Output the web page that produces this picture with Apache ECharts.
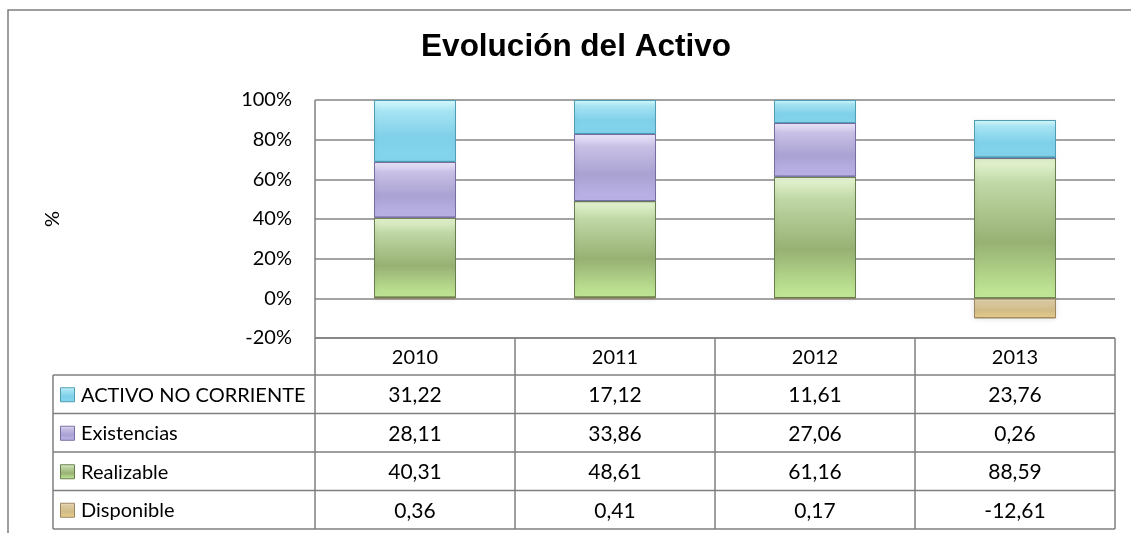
<!DOCTYPE html>
<html><head><meta charset="utf-8">
<script src="https://cdn.jsdelivr.net/npm/echarts@6/dist/echarts.min.js"></script>
<style>html,body{margin:0;padding:0;background:#fff}#c{width:1131px;height:533px}</style>
</head><body><div id="c"></div>
<script>
const years = ['2010', '2011', '2012', '2013'];
const activoNoCorriente = [31.22, 17.12, 11.61, 23.76];
const existencias = [28.11, 33.86, 27.06, 0.26];
const realizable = [40.31, 48.61, 61.16, 88.59];
const disponible = [0.36, 0.41, 0.17, -12.61];
const yTicks = [-20, 0, 20, 40, 60, 80, 100];

const seriesDefs = [
  {name: 'ACTIVO NO CORRIENTE', data: activoNoCorriente,
   stops: ['#dafcff', '#a6e4f3', '#7fd0e9', '#84d6ee'], border: '#4f9db2'},
  {name: 'Existencias', data: existencias,
   stops: ['#f0ecfe', '#c9c1e6', '#aaa2d2', '#bdb4ea'], border: '#776da3'},
  {name: 'Realizable', data: realizable,
   stops: ['#e9f8d6', '#c0d8a6', '#97b173', '#c4ec98'], border: '#687d4e'},
  {name: 'Disponible', data: disponible,
   stops: ['#efe4cc', '#dccaa0', '#d1bc88', '#ecd08c'], border: '#9c8660'}
];

function grad(st) {
  return new echarts.graphic.LinearGradient(0, 0, 0, 1, [
    {offset: 0, color: st[0]}, {offset: 0.18, color: st[1]},
    {offset: 0.6, color: st[2]}, {offset: 1, color: st[3]}]);
}

// 100% stacked: each value as share of the sum of absolute values per year
const totals = years.map((_, i) => seriesDefs.reduce((s, d) => s + Math.abs(d.data[i]), 0));
const fmt = v => v.toFixed(2).replace('.', ',');

const L = 315, R = 1115, TOP = 100, BOT = 338;
const rowH = [37, 38.5, 38.5, 38.5, 38.5];
const tableLeft = 53;
const FONT = 'Lato, "Open Sans", sans-serif';
const FS = 20;

const chart = echarts.init(document.getElementById('c'), null, {renderer: 'canvas'});

const stackOrder = [3, 2, 1, 0]; // bottom to top
const series = stackOrder.map(k => {
  const d = seriesDefs[k];
  return {
    name: d.name, type: 'bar', stack: 'total', barWidth: '41%',
    data: d.data.map((v, i) => v / totals[i] * 100),
    itemStyle: {color: grad(d.stops), borderColor: d.border, borderWidth: 1,
      shadowBlur: 6, shadowColor: 'rgba(0,0,0,0.12)'},
    emphasis: {disabled: true}, animation: false
  };
});

chart.setOption({
  animation: false,
  grid: {left: L, right: 1131 - R, top: TOP, bottom: 533 - BOT, containLabel: false},
  xAxis: {type: 'category', data: years, axisLine: {show: false}, axisTick: {show: false},
    axisLabel: {show: false}},
  yAxis: {type: 'value', min: -20, max: 100, interval: 20,
    name: '%', nameLocation: 'middle', nameRotate: 90, nameGap: 252,
    nameTextStyle: {fontFamily: FONT, fontSize: FS, color: '#000'},
    axisLine: {show: false}, axisTick: {show: false},
    axisLabel: {margin: 23, fontFamily: FONT, fontSize: FS, color: '#000',
      formatter: v => yTicks.includes(v) ? v + '%' : ''},
    splitLine: {lineStyle: {color: '#868686', width: 1.5}}},
  series: series
});

// Data table and frame
const g = [];
const lineStyle = {stroke: '#7f7f7f', lineWidth: 1.5};
g.push({type: 'rect', shape: {x: 8, y: 10, width: 1300, height: 700}, style: {fill: 'none', stroke: '#7f7f7f', lineWidth: 1.5}, z: 100});
g.push({type: 'line', shape: {x1: L, y1: TOP, x2: L, y2: BOT}, style: lineStyle, z: 100});
const colW = (R - L) / years.length;
let y = BOT;
const rowTops = [];
for (let r = 0; r < rowH.length; r++) { rowTops.push(y); y += rowH[r]; }
const tableBottom = y;
g.push({type: 'line', shape: {x1: L, y1: BOT, x2: R, y2: BOT}, style: lineStyle, z: 100});
for (let r = 1; r <= rowH.length; r++) {
  const yy = r < rowH.length ? rowTops[r] : tableBottom;
  g.push({type: 'line', shape: {x1: tableLeft, y1: yy, x2: R, y2: yy}, style: lineStyle, z: 100});
}
g.push({type: 'line', shape: {x1: tableLeft, y1: rowTops[1], x2: tableLeft, y2: tableBottom}, style: lineStyle, z: 100});
for (let c = 0; c <= years.length; c++) {
  const xx = L + c * colW;
  g.push({type: 'line', shape: {x1: xx, y1: BOT, x2: xx, y2: tableBottom}, style: lineStyle, z: 100});
}
years.forEach((yr, c) => {
  const cx = chart.convertToPixel({xAxisIndex: 0}, yr);
  g.push({type: 'text', x: cx, y: rowTops[0] + rowH[0] / 2 + 1, style: {text: yr, fontFamily: FONT, fontSize: FS, fill: '#000', align: 'center', verticalAlign: 'middle'}, z: 101});
});
seriesDefs.forEach((d, r) => {
  const top = rowTops[r + 1], h = rowH[r + 1], cy = top + h / 2 + 1;
  g.push({type: 'rect', shape: {x: 60.5, y: cy - 7.5, width: 14, height: 14},
    style: {fill: grad(d.stops), stroke: d.border, lineWidth: 1}, z: 101});
  g.push({type: 'text', x: 81, y: cy, style: {text: d.name, fontFamily: FONT, fontSize: FS, fill: '#000', align: 'left', verticalAlign: 'middle'}, z: 101});
  years.forEach((yr, c) => {
    const cx = chart.convertToPixel({xAxisIndex: 0}, yr);
    g.push({type: 'text', x: cx, y: cy, style: {text: fmt(d.data[c]), fontFamily: FONT, fontSize: FS + 1, fill: '#000', align: 'center', verticalAlign: 'middle'}, z: 101});
  });
});
g.push({type: 'text', x: 576, y: 47, style: {text: 'Evolución del Activo', fontFamily: '"Liberation Sans", Arial, sans-serif', fontWeight: 'bold', fontSize: 31.5, fill: '#000', align: 'center', verticalAlign: 'middle'}, z: 101});

chart.setOption({graphic: {elements: g}});
</script></body></html>
